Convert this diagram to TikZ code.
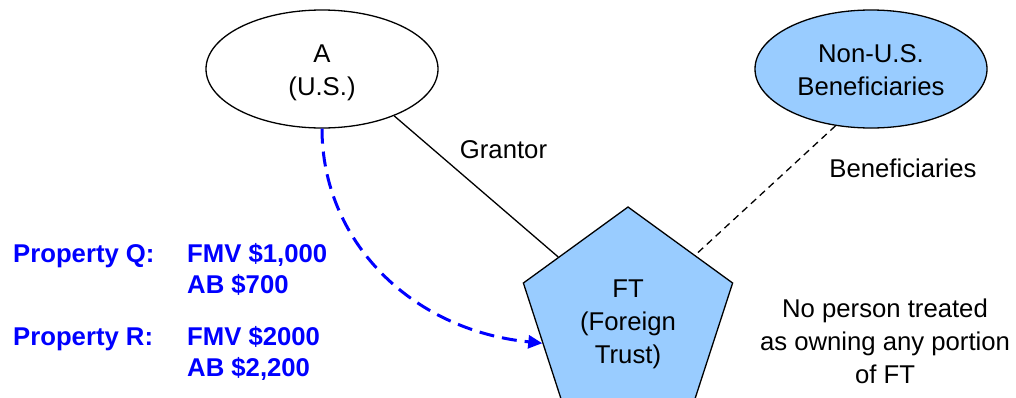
\documentclass[tikz,border=0pt]{standalone}
\usepackage{fontspec}
\setmainfont{Liberation Sans}
\usetikzlibrary{shapes.geometric,arrows.meta}
\definecolor{lblue}{RGB}{153,204,255}
\definecolor{pblue}{RGB}{0,0,255}
\begin{document}
\begin{tikzpicture}[x=1pt,y=-1pt,
  font=\fontsize{25.7}{33}\selectfont,
  ell/.style={ellipse, draw, line width=1.3pt, minimum width=232pt, minimum height=118pt, inner sep=0pt, align=center},
  pent/.style={regular polygon, regular polygon sides=5, minimum size=220pt, inner sep=0pt, draw, fill=lblue, line width=1.3pt, align=center},
  txt/.style={inner sep=0pt, align=center},
  prop/.style={inner sep=0pt, align=left, text=pblue, font=\fontsize{25.7}{31.5}\selectfont\bfseries, anchor=base west},
  link/.style={line width=1.3pt},
  benlink/.style={line width=1.3pt, dash pattern=on 7pt off 5pt},
  move/.style={draw=pblue, line width=3pt, dash pattern=on 15pt off 8pt, -{Triangle[length=14pt,width=13pt,fill=pblue]}}
]
\useasboundingbox (0,0) rectangle (1016,397);
\clip (0,0) rectangle (1016,397);
\fill[white] (0,0) rectangle (1016,397);

\node[ell] (A) at (322,69) {\rule{0pt}{26pt}A\\(U.S.)};
\node[ell, fill=lblue] (NUS) at (871,69) {\rule{0pt}{20pt}Non-U.S.\\Beneficiaries};
\node[pent] (FT) at (628,317) {\rule{0pt}{33pt}FT\\(Foreign\\Trust)};

\draw[link] (A.-33) -- (FT);
\draw[benlink] (NUS.238) -- (FT);
\draw[move] (A.south) .. controls (322,240) and (410,330) .. (FT.197);

\node[txt, anchor=base] (gr) at (503.5,158) {Grantor};
\node[txt, anchor=base] (ben) at (903,177) {Beneficiaries};
\node[txt] (np) at (885,341) {No person treated\\as owning any portion\\of FT};

\node[prop] (pq) at (13,262) {Property Q:};
\node[prop] (vq) at (187,293.5) {FMV \$1,000\\AB \$700};
\node[prop] (pr) at (13,345) {Property R:};
\node[prop] (vr) at (187,376.5) {FMV \$2000\\AB \$2,200};
\end{tikzpicture}
\end{document}
